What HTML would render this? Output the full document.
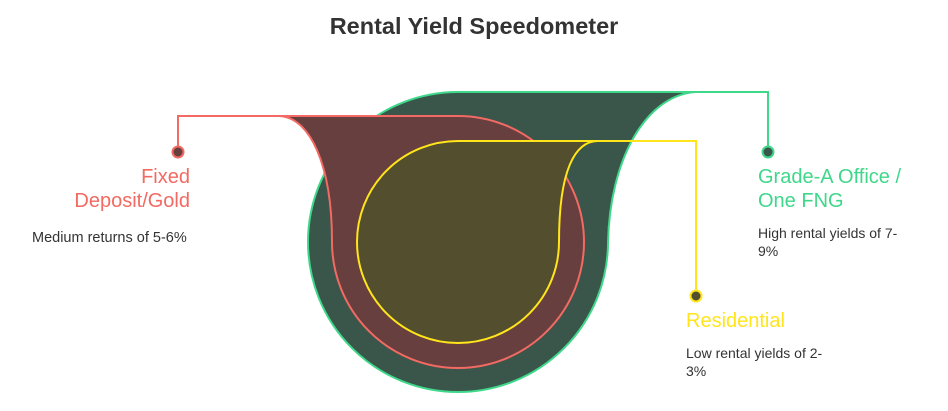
<!DOCTYPE html>
<html><head><meta charset="utf-8"><style>
html,body{margin:0;padding:0;background:#fff;width:948px;height:411px;overflow:hidden}
svg{display:block}
text{font-family:"Liberation Sans",Arial,sans-serif}
</style></head><body>
<svg width="948" height="411" viewBox="0 0 948 411">
<text x="474" y="34" text-anchor="middle" font-size="23.5" font-weight="bold" fill="#333">Rental Yield Speedometer</text>
<path d="M458,92 L695,92 C645,96 610,160 608,242 A150,150 0 1 1 458,92 Z" fill="#3a5549" stroke="#3fd88a" stroke-width="2"/>
<path d="M458,116 A126,126 0 1 1 332,242 C332,165 310,116 278,116 Z" fill="#673f3f" stroke="#f26a63" stroke-width="2"/>
<path d="M458,141 L598,141 C575,141 559,170 559,242 A101,101 0 1 1 458,141 Z" fill="#534e2e" stroke="#ffe51a" stroke-width="2"/>
<polyline points="278,116 178,116 178,152" fill="none" stroke="#f26a63" stroke-width="2"/>
<circle cx="178" cy="152" r="5.5" fill="#673f3f" stroke="#f26a63" stroke-width="2"/>
<polyline points="695,92 768,92 768,152" fill="none" stroke="#3fd88a" stroke-width="2"/>
<circle cx="768" cy="152" r="5.5" fill="#3a5549" stroke="#3fd88a" stroke-width="2"/>
<polyline points="598,141 696,141 696,296" fill="none" stroke="#ffe51a" stroke-width="2"/>
<circle cx="696" cy="296" r="5.5" fill="#534e2e" stroke="#ffe51a" stroke-width="2"/>
<g font-size="20" fill="#f26a63" text-anchor="end">
<text x="190" y="183">Fixed</text><text x="190" y="207">Deposit/Gold</text></g>
<text x="32" y="242" font-size="14.5" fill="#333">Medium returns of 5-6%</text>
<g font-size="20" fill="#3fd88a"><text x="758" y="183">Grade-A Office /</text><text x="758" y="207">One FNG</text></g>
<g font-size="14" fill="#333"><text x="758" y="238">High rental yields of 7-</text><text x="758" y="256">9%</text></g>
<text x="686" y="327" font-size="20" fill="#ffe51a">Residential</text>
<g font-size="14" fill="#333"><text x="686" y="358">Low rental yields of 2-</text><text x="686" y="376">3%</text></g>
</svg>
</body></html>
